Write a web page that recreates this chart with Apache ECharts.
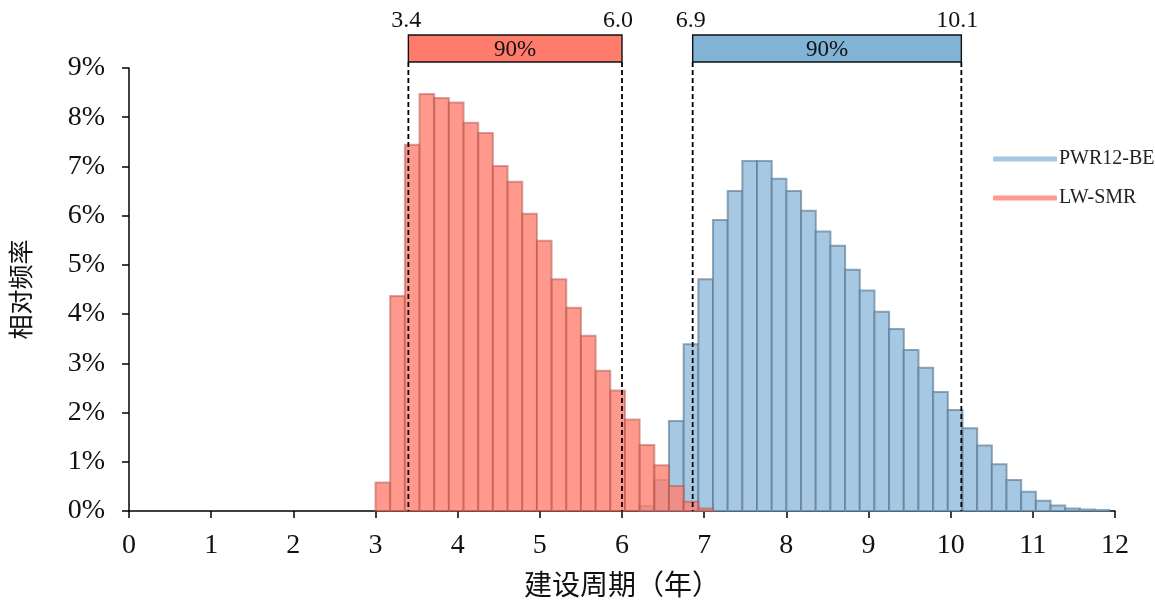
<!DOCTYPE html>
<html>
<head>
<meta charset="utf-8">
<script src="https://cdn.jsdelivr.net/npm/echarts@6/dist/echarts.min.js"></script>
<style>html,body{margin:0;padding:0;background:#fff;}#chart{width:1155px;height:605px;}</style>
</head>
<body>
<div id="chart"></div>
<script>
// ---- data ----
const seriesNames = ['PWR12-BE', 'LW-SMR'];
const binStart = 3.0;          // left edge of first histogram bin (years)
const binWidth = 0.1786;       // histogram bin width (years)
// LW-SMR relative frequency (%) starting at bin 0
const lwSmrOffset = 0;
const lwSmrValues = [0.58, 4.37, 7.44, 8.47, 8.39, 8.30, 7.89, 7.68, 7.01, 6.69, 6.04, 5.49,
  4.71, 4.13, 3.56, 2.85, 2.45, 1.86, 1.34, 0.93, 0.51, 0.19, 0.05];
// PWR12-BE relative frequency (%) starting at bin 18
const pwrOffset = 18;
const pwrValues = [0.10, 0.63, 1.83, 3.39, 4.71, 5.91, 6.50, 7.11, 7.11, 6.75, 6.50, 6.10,
  5.68, 5.39, 4.90, 4.48, 4.05, 3.70, 3.27, 2.91, 2.42, 2.05, 1.68, 1.33, 0.95, 0.63,
  0.39, 0.21, 0.11, 0.05, 0.03, 0.02];
// 90% intervals: [LW-SMR, PWR12-BE]
const ciLow = [3.4, 6.86];
const ciHigh = [6.0, 10.13];
const ciLowLabel = ['3.4', '6.9'];
const ciHighLabel = ['6.0', '10.1'];
const ciText = ['90%', '90%'];
const xTickValues = [0, 1, 2, 3, 4, 5, 6, 7, 8, 9, 10, 11, 12];
const yTickValues = [0, 1, 2, 3, 4, 5, 6, 7, 8, 9];
const xName = '建设周期（年）';
const yName = '相对频率';

// ---- styles ----
const SERIF = 'Liberation Serif';
const CJK = 'Noto Sans CJK SC';
const blueFill = '#a6c8e2', blueStroke = 'rgba(90,122,148,0.65)', blueBox = '#80b3d6';
const redFill = 'rgba(255,128,113,0.8)', redStroke = 'rgba(175,82,72,0.5)', redBox = '#ff7b6b';

function binData(values, offset) {
  return values.map((v, i) => [binStart + (offset + i) * binWidth, binStart + (offset + i + 1) * binWidth, v]);
}
function histRender(fill, stroke) {
  return function (params, api) {
    const p0 = api.coord([api.value(0), api.value(2)]);
    const p1 = api.coord([api.value(1), 0]);
    return {
      type: 'rect',
      shape: { x: p0[0], y: p0[1], width: p1[0] - p0[0], height: p1[1] - p0[1] },
      style: { fill: fill, stroke: stroke, lineWidth: 2 }
    };
  };
}
const ciColors = [redBox, blueBox];
const ciData = ciLow.map((l, i) => [l, ciHigh[i], i]);

const chart = echarts.init(document.getElementById('chart'), null, { renderer: 'canvas' });
chart.setOption({
  animation: false,
  grid: { left: 128, right: 40, top: 68, bottom: 94 },
  legend: {
    orient: 'vertical', left: 993, top: 149, itemGap: 19, padding: 0,
    icon: 'roundRect', itemWidth: 64, itemHeight: 5,
    textStyle: { fontFamily: SERIF, fontSize: 20, color: '#222', padding: [0, 0, 0, -3] },
    data: [
      { name: seriesNames[0], itemStyle: { color: blueFill } },
      { name: seriesNames[1], itemStyle: { color: '#ff9b8e' } }
    ]
  },
  xAxis: {
    type: 'value', min: 0, max: 12, interval: 1,
    name: xName, nameLocation: 'middle', nameGap: 59,
    nameTextStyle: { fontFamily: CJK, fontSize: 28, color: '#111' },
    axisLine: { lineStyle: { color: '#000', width: 1.5 } },
    axisTick: { show: true, length: 7, lineStyle: { color: '#000', width: 1.5 } },
    splitLine: { show: false },
    axisLabel: { fontFamily: SERIF, fontSize: 28, color: '#111', margin: 21,
      formatter: v => xTickValues.includes(v) ? String(v) : '' }
  },
  yAxis: {
    type: 'value', min: 0, max: 9, interval: 1,
    name: yName, nameLocation: 'middle', nameGap: 96, nameRotate: 90,
    nameTextStyle: { fontFamily: CJK, fontSize: 25, color: '#111' },
    axisLine: { show: true, lineStyle: { color: '#000', width: 1.5 } },
    axisTick: { show: true, length: 7, lineStyle: { color: '#000', width: 1.5 } },
    splitLine: { show: false },
    axisLabel: { fontFamily: SERIF, fontSize: 28, color: '#111', margin: 24,
      formatter: v => yTickValues.includes(v) ? v + '%' : '' }
  },
  series: [
    { name: seriesNames[0], type: 'custom', renderItem: histRender(blueFill, blueStroke),
      data: binData(pwrValues, pwrOffset), encode: { x: [0, 1], y: 2 }, z: 2 },
    { name: seriesNames[1], type: 'custom', renderItem: histRender(redFill, redStroke),
      data: binData(lwSmrValues, lwSmrOffset), encode: { x: [0, 1], y: 2 }, z: 3 },
    { name: 'ci', type: 'custom', clip: false, z: 5, silent: true,
      data: ciData, encode: { x: [0, 1] },
      renderItem: function (params, api) {
        const i = api.value(2);
        const pl = api.coord([api.value(0), 0]);
        const pr = api.coord([api.value(1), 0]);
        const top9 = api.coord([0, 9])[1];
        const boxTop = top9 - 33, boxH = 27;
        const dash = { stroke: '#000', lineWidth: 1.8, lineDash: [5, 3] };
        return {
          type: 'group',
          children: [
            { type: 'line', shape: { x1: pl[0], y1: boxTop + boxH, x2: pl[0], y2: pl[1] }, style: dash },
            { type: 'line', shape: { x1: pr[0], y1: boxTop + boxH, x2: pr[0], y2: pr[1] }, style: dash },
            { type: 'rect', shape: { x: pl[0], y: boxTop, width: pr[0] - pl[0], height: boxH },
              style: { fill: ciColors[i], stroke: '#111', lineWidth: 1.4 } },
            { type: 'text', style: { x: (pl[0] + pr[0]) / 2, y: boxTop + boxH / 2 + 1, text: ciText[i],
              align: 'center', verticalAlign: 'middle', fontFamily: SERIF, fontSize: 23, fill: '#111' } },
            { type: 'text', style: { x: pl[0] - 2, y: boxTop - 2, text: ciLowLabel[i],
              align: 'center', verticalAlign: 'bottom', fontFamily: SERIF, fontSize: 24, fill: '#111' } },
            { type: 'text', style: { x: pr[0] - 4, y: boxTop - 2, text: ciHighLabel[i],
              align: 'center', verticalAlign: 'bottom', fontFamily: SERIF, fontSize: 24, fill: '#111' } }
          ]
        };
      }
    }
  ]
});
</script>
</body>
</html>
